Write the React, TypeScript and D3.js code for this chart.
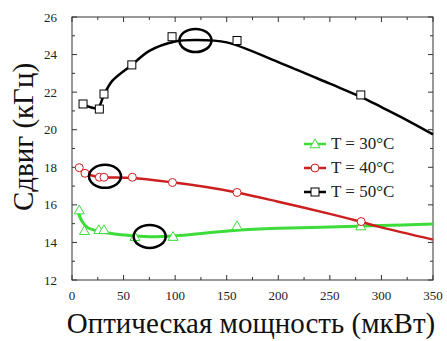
import React from 'react'
import * as d3 from 'd3'

// measured points
const x30 = [7, 12, 26, 31, 61, 98, 160, 280]
const y30 = [15.72, 14.62, 14.67, 14.67, 14.3, 14.31, 14.88, 14.87]
const x40 = [7, 12.6, 26.5, 31, 58.5, 97.4, 160, 280.3]
const y40 = [17.98, 17.68, 17.47, 17.47, 17.47, 17.19, 16.66, 15.11]
const x50 = [10.7, 26.5, 31, 58, 97, 160, 280]
const y50 = [21.37, 21.1, 21.9, 23.45, 24.95, 24.75, 21.85]

// fitted curves
const fit30: [number, number][] = [[6, 15.6], [10, 15.1], [15, 14.8], [22, 14.65], [35, 14.5], [50, 14.4], [75, 14.3], [100, 14.35], [130, 14.5], [160, 14.65], [200, 14.75], [250, 14.82], [300, 14.9], [350, 14.98]]
const fit40: [number, number][] = [[5, 17.95], [12, 17.7], [20, 17.55], [30, 17.47], [58, 17.43], [97, 17.2], [130, 16.95], [160, 16.66], [200, 16.17], [250, 15.52], [280, 15.1], [300, 14.8], [350, 14.15]]
const fit50: [number, number][] = [[10, 21.35], [18, 21.2], [25, 21.15], [31, 21.85], [39, 22.6], [58, 23.45], [75, 24.2], [100, 24.7], [120, 24.78], [150, 24.65], [200, 23.6], [250, 22.45], [280, 21.75], [300, 21.2], [325, 20.5], [350, 19.75]]

// highlighted spots (ellipses)
const marksX = [119.7, 32, 75.3]
const marksY = [24.75, 17.52, 14.32]

const legendLabels = ['T = 30°C', 'T = 40°C', 'T = 50°C']
const xTicks = [0, 50, 100, 150, 200, 250, 300, 350]
const yTicks = [12, 14, 16, 18, 20, 22, 24, 26]

const W = 447
const H = 341
const margin = { left: 72, right: 14, top: 17, bottom: 61 }

const green = '#3ddc3a'
const red = '#cc1f1f'
const black = '#000'
const font = 'Liberation Serif'

const App = () => {
  const x = d3.scaleLinear().domain([0, 350]).range([margin.left, W - margin.right])
  const y = d3.scaleLinear().domain([12, 26]).range([H - margin.bottom, margin.top])
  const line = d3.line<[number, number]>()
    .x(d => x(d[0]))
    .y(d => y(d[1]))
    .curve(d3.curveCatmullRom)

  const x0 = x(0), x1 = x(350), yb = y(12), yt = y(26)
  const minorX = d3.range(25, 350, 50)
  const minorY = d3.range(13, 26, 2)

  const tri = (cx: number, cy: number, s = 5) =>
    `M${cx},${cy - s}L${cx + s},${cy + s * 0.75}L${cx - s},${cy + s * 0.75}Z`
  const sq = (cx: number, cy: number, key: any, s = 4) =>
    <rect key={key} x={cx - s} y={cy - s} width={s * 2} height={s * 2} fill="#fff" stroke={black} strokeWidth={1} />

  const legY = [144, 168, 192]
  const colors = [green, red, black]

  return (
    <svg width={W} height={H} style={{ position: 'absolute', left: 0, top: 0, background: '#fff' }}>
      {/* frame + ticks */}
      <rect x={x0} y={yt} width={x1 - x0} height={yb - yt} fill="none" stroke="#333" strokeWidth={1} />
      {xTicks.map(t => (
        <g key={'xt' + t} stroke="#333">
          <line x1={x(t)} x2={x(t)} y1={yb} y2={yb - 5} />
          <line x1={x(t)} x2={x(t)} y1={yt} y2={yt + 5} />
        </g>
      ))}
      {minorX.map(t => (
        <g key={'xm' + t} stroke="#333">
          <line x1={x(t)} x2={x(t)} y1={yb} y2={yb - 3} />
          <line x1={x(t)} x2={x(t)} y1={yt} y2={yt + 3} />
        </g>
      ))}
      {yTicks.map(t => (
        <g key={'yt' + t} stroke="#333">
          <line x1={x0} x2={x0 + 5} y1={y(t)} y2={y(t)} />
          <line x1={x1} x2={x1 - 5} y1={y(t)} y2={y(t)} />
        </g>
      ))}
      {minorY.map(t => (
        <g key={'ym' + t} stroke="#333">
          <line x1={x0} x2={x0 + 3} y1={y(t)} y2={y(t)} />
          <line x1={x1} x2={x1 - 3} y1={y(t)} y2={y(t)} />
        </g>
      ))}
      {xTicks.map(t => (
        <text key={'xl' + t} x={x(t)} y={yb + 20} textAnchor="middle" fontFamily={font} fontSize={13} fill="#222">{t}</text>
      ))}
      {yTicks.map(t => (
        <text key={'yl' + t} x={x0 - 15} y={y(t) + 4.5} textAnchor="end" fontFamily={font} fontSize={13} fill="#222">{t}</text>
      ))}

      {/* curves */}
      <path d={line(fit30) || ''} fill="none" stroke={green} strokeWidth={3} />
      <path d={line(fit40) || ''} fill="none" stroke={red} strokeWidth={2.5} />
      <path d={line(fit50) || ''} fill="none" stroke={black} strokeWidth={2.5} />

      {/* markers */}
      {x30.map((v, i) => <path key={'g' + i} d={tri(x(v), y(y30[i]))} fill="#fff" stroke={green} strokeWidth={1} />)}
      {x40.map((v, i) => <circle key={'r' + i} cx={x(v)} cy={y(y40[i])} r={4} fill="#fff" stroke={red} strokeWidth={1} />)}
      {x50.map((v, i) => sq(x(v), y(y50[i]), 'b' + i))}

      {/* ellipses */}
      {marksX.map((v, i) => (
        <ellipse key={'e' + i} cx={x(v)} cy={y(marksY[i])} rx={16} ry={11.5} fill="none" stroke="#000" strokeWidth={2.5} />
      ))}

      {/* legend */}
      {legendLabels.map((l, i) => (
        <g key={'lg' + i}>
          <line x1={304} x2={326} y1={legY[i]} y2={legY[i]} stroke={colors[i]} strokeWidth={2.5} />
          {i === 0 && <path d={tri(315, legY[i])} fill="#fff" stroke={green} />}
          {i === 1 && <circle cx={315} cy={legY[i]} r={4} fill="#fff" stroke={red} />}
          {i === 2 && sq(315, legY[i], 'ls')}
          <text x={331} y={legY[i] + 5} fontFamily={font} fontSize={17} fill="#222">{l}</text>
        </g>
      ))}

      {/* axis titles */}
      <text transform="translate(33,137) rotate(-90)" textAnchor="middle" fontFamily={font} fontSize={29} fill="#111">Сдвиг (кГц)</text>
      <text x={251} y={333} textAnchor="middle" fontFamily={font} fontSize={29} fill="#111">Оптическая мощность (мкВт)</text>
    </svg>
  )
}

export default App
